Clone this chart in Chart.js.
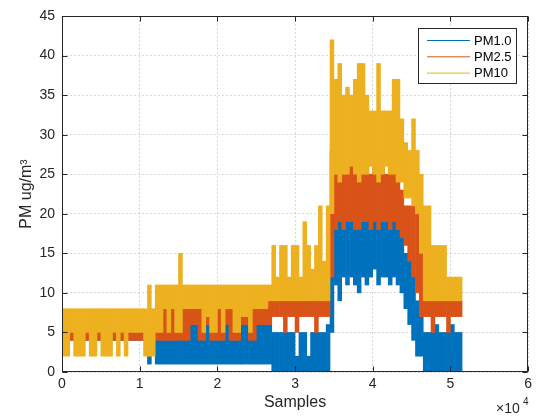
<!DOCTYPE html>
<html>
<head>
<meta charset="utf-8">
<script src="https://cdn.jsdelivr.net/npm/chart.js@4.4.0/dist/chart.umd.min.js"></script>
<style>
  html, body { margin: 0; padding: 0; background: #fff; }
</style>
</head>
<body>
<canvas id="myChart" width="536" height="416"></canvas>
<script>
// each value is the min / max reading inside one 500-sample bin
const binSize = 500;
const seriesNames = ['PM1.0', 'PM2.5', 'PM10'];
const seriesColors = ['#0072BD', '#D95319', '#EDB120'];
const xTickLabels = ['0', '1', '2', '3', '4', '5', '6'];   // x 10^4 samples
const yTickValues = [0, 5, 10, 15, 20, 25, 30, 35, 40, 45];

const pm10Hi = [
  8,8,8,8,8,8,8,8,8,8,8,8,8,8,8,8,8,
  8,8,8,8, 8,11,8,
  11,11,11,11,11,11,15,11,11,11,11,11,11,11,11,11,11,11,11,11,11,11,11,11,11,11,11,11,11,11,
  16,12,16,16,12,16,16,12,19,16,13,16,21,14,21,
  42,37,39,35,36,35,37,39,39,35,33,33,39,33,33,33,37,37,32,29,28,32,28,25,
  21,21,16,16,16,16,12,12,12,12
];
const pm10Lo = [
  2,2,5,2,2,2,5,2,2,5,2,2,2,5,2,5,2,
  5,5,5,5, 2,2,2,
  5,5,8,5,8,5,5,8,8,8,8,8,5,7,5,5,8,5,8,8,5,5,7,7,5,8,8,8,8,9,
  9,9,9,9,9,9,9,9,9,9,9,9,9,9,9,
  20,25,24,25,25,26,25,24,25,25,26,25,24,25,26,25,25,24,24,22,22,21,20,15,
  9,9,9,9,9,9,9,9,9,9
];
const pm25Hi = [
  5,5,5,5,5,5,5,5,5,5,5,5,5,5,5,5,5,
  5,5,5,5, 5,5,5,
  5,5,8,5,8,5,5,8,8,8,8,8,5,7,5,5,8,5,8,8,5,5,7,7,5,8,8,8,8,9,
  9,9,9,9,9,9,9,9,9,9,9,9,9,9,9,
  28,26,27,26,27,26,27,27,28,26,25,26,27,26,25,25,26,25,23,21,21,21,20,15,
  9,9,9,9,9,9,9,9,9,9
];
const pm25Lo = [
  4,4,4,4,4,4,4,4,4,4,4,4,4,4,4,4,4,
  4,4,4,4, 4,2,4,
  4,4,4,4,4,4,4,4,4,6,6,4,4,6,4,4,4,4,6,4,4,4,6,6,4,4,6,6,6,6,
  7,7,7,5,7,7,5,7,7,7,7,5,7,7,7,
  12,18,19,18,19,19,18,18,19,19,18,19,18,19,19,18,19,18,17,16,14,12,10,7,
  7,7,5,7,7,7,5,7,7,7
];
const pm1Hi = [
  5,5,5,5,5,5,5,5,5,5,5,5,5,5,5,5,5,
  5,5,5,5, 5,4,5,
  4,4,4,4,4,4,4,4,4,6,6,4,4,6,4,4,4,4,6,4,4,4,6,6,4,4,6,6,6,6,
  5,5,5,5,5,5,2,5,5,2,5,5,5,5,6,
  21,20,20,21,19,20,21,20,19,20,21,20,19,20,20,19,20,19,17,15,14,12,9,8,
  5,5,5,6,5,5,5,6,5,5
];
const pm1Lo = [
  4,4,4,4,4,4,4,4,4,4,4,4,4,4,4,4,4,
  4,4,4,4, 4,1,4,
  1,1,1,1,1,1,1,1,1,1,1,1,1,1,1,1,1,1,1,1,1,1,1,1,1,1,1,1,1,1,
  0,0,0,0,0,0,0,0,0,0,0,0,0,0,0,
  5,11,9,12,11,12,11,10,12,11,12,13,11,12,12,11,12,11,10,8,6,4,2,2,
  0,0,0,0,0,0,0,0,0,0
];

const loSets = [pm1Lo, pm25Lo, pm10Lo];
const hiSets = [pm1Hi, pm25Hi, pm10Hi];

const FONT = "'Liberation Sans', Arial, Helvetica, sans-serif";
const AXIS_COLOR = '#262626';

// box, inward ticks on all sides, legend and exponent label (MATLAB look)
const matlabAxes = {
  id: 'matlabAxes',
  afterDatasetsDraw(chart) {
    const {ctx, chartArea: a, scales} = chart;
    ctx.save();
    ctx.strokeStyle = AXIS_COLOR;
    ctx.lineWidth = 1;
    const L = Math.round(a.left) + 0.5, R = Math.round(a.right) - 0.5;
    const T = Math.round(a.top) + 0.5, B = Math.round(a.bottom) - 0.5;
    ctx.strokeRect(L, T, R - L, B - T);
    ctx.beginPath();
    scales.x.ticks.forEach(t => {
      const px = Math.round(scales.x.getPixelForValue(t.value)) + 0.5;
      ctx.moveTo(px, B); ctx.lineTo(px, B - 5);
      ctx.moveTo(px, T); ctx.lineTo(px, T + 5);
    });
    scales.y.ticks.forEach(t => {
      const py = Math.round(scales.y.getPixelForValue(t.value)) + 0.5;
      ctx.moveTo(L, py); ctx.lineTo(L + 5, py);
      ctx.moveTo(R, py); ctx.lineTo(R - 5, py);
    });
    ctx.stroke();

    // legend
    const lx = 418.5, ly = 28.5, lw = 98, lh = 55;
    ctx.fillStyle = '#fff';
    ctx.fillRect(lx, ly, lw, lh);
    ctx.strokeStyle = AXIS_COLOR;
    ctx.strokeRect(lx, ly, lw, lh);
    ctx.font = '13px ' + FONT;
    ctx.textBaseline = 'middle';
    chart.data.datasets.slice().sort((p, q) => p.legendIndex - q.legendIndex).forEach((ds, i) => {
      const y = 40.5 + i * 16.3;
      ctx.strokeStyle = ds.backgroundColor;
      ctx.beginPath(); ctx.moveTo(427, y); ctx.lineTo(470, y); ctx.stroke();
      ctx.fillStyle = '#000';
      ctx.fillText(ds.label, 474, y + 0.5);
    });

    // x10^4
    ctx.fillStyle = AXIS_COLOR;
    ctx.textBaseline = 'alphabetic';
    ctx.font = '14px ' + FONT;
    ctx.fillText('\u00d710', 496, 413);
    ctx.font = '10px ' + FONT;
    ctx.fillText('4', 523, 405);
    ctx.restore();
  }
};

const datasets = seriesNames.map((name, s) => ({
  label: name,
  legendIndex: s,
  data: loSets[s].map((lo, i) => ({ x: i * binSize + binSize / 2, y: [lo, hiSets[s][i]] })),
  backgroundColor: seriesColors[s],
  borderWidth: 0,
  barPercentage: 1,
  categoryPercentage: 1,
  grouped: false,
  order: 2 - s
}));

new Chart(document.getElementById('myChart'), {
  type: 'bar',
  data: { datasets },
  options: {
    responsive: false,
    animation: false,
    events: [],
    layout: { padding: { top: 16, right: 6, left: 0, bottom: 0 } },
    plugins: { legend: { display: false }, tooltip: { enabled: false } },
    scales: {
      x: {
        type: 'linear',
        min: 0, max: 60000,
        offset: false,
        afterFit(scale) { scale.height = 44; },
        ticks: {
          stepSize: 10000,
          padding: 4,
          color: AXIS_COLOR,
          font: { family: FONT, size: 14 },
          maxRotation: 0,
          callback: (v) => xTickLabels[v / 10000]
        },
        grid: { offset: false, drawTicks: false, color: 'rgba(38,38,38,0.18)', lineWidth: 1 },
        border: { display: false, dash: [2, 2] },
        title: { display: true, text: 'Samples', color: AXIS_COLOR, font: { family: FONT, size: 16 }, padding: { top: 0, bottom: 4 } }
      },
      y: {
        min: 0, max: 45,
        afterFit(scale) { scale.width = 62; },
        afterBuildTicks(scale) { scale.ticks = yTickValues.map(v => ({ value: v })); },
        ticks: {
          padding: 7,
          color: AXIS_COLOR,
          font: { family: FONT, size: 14 }
        },
        grid: { drawTicks: false, color: 'rgba(38,38,38,0.18)', lineWidth: 1 },
        border: { display: false, dash: [2, 2] },
        title: { display: true, text: 'PM ug/m\u00b3', color: AXIS_COLOR, font: { family: FONT, size: 16 }, padding: { top: 17, bottom: 0 } }
      }
    }
  },
  plugins: [matlabAxes]
});
</script>
</body>
</html>
